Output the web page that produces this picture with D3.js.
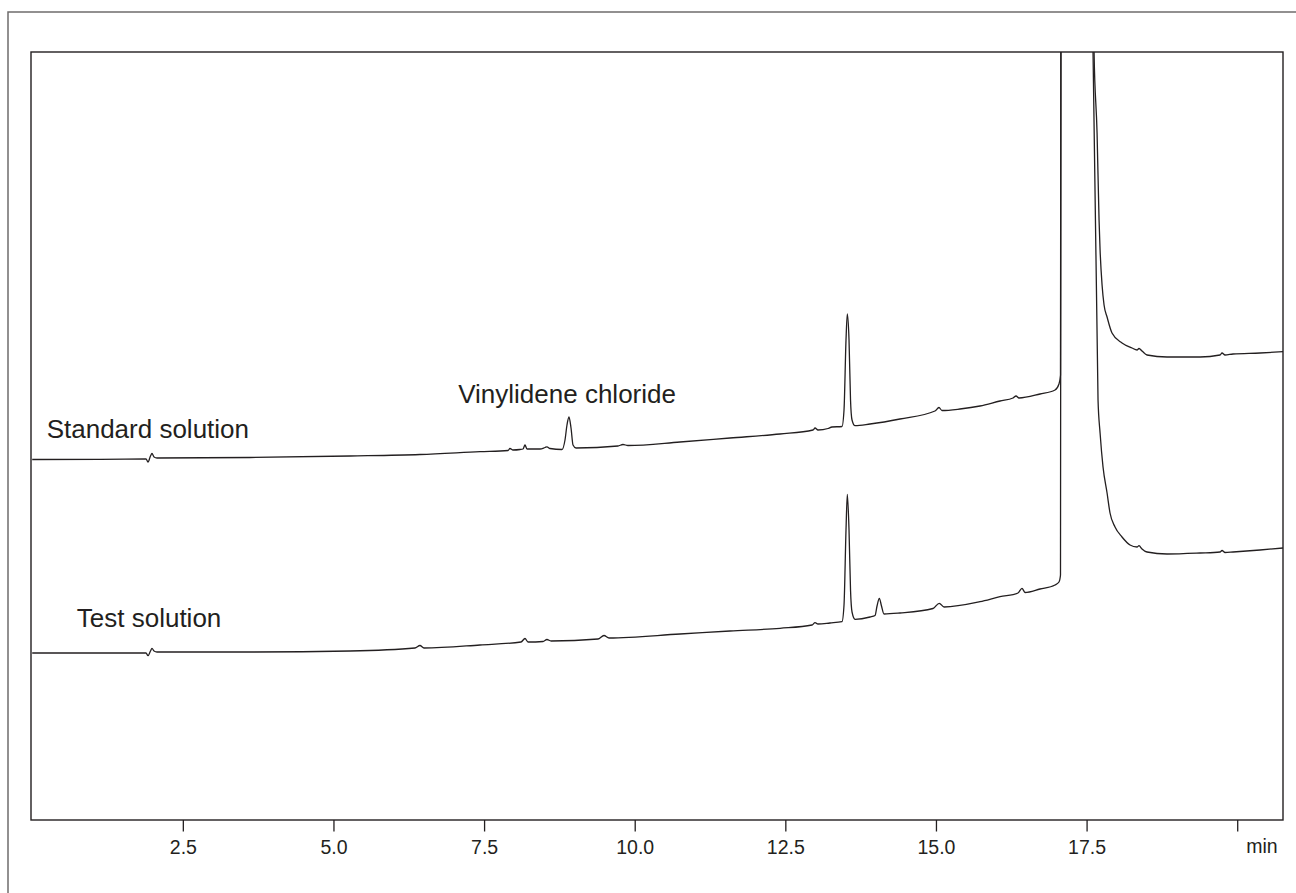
<!DOCTYPE html>
<html>
<head>
<meta charset="utf-8">
<script src="https://cdn.jsdelivr.net/npm/d3@7"></script>
<style>
    body { margin: 0; background: #fff; }
    svg { display: block; font-family: "Liberation Sans", Arial, Helvetica, sans-serif; }
</style>
</head>
<body>
<svg id="chart" width="1296" height="893"></svg>
<script>
// Retention time (min) and detector response (arbitrary units)
const stdTime = [0, 1.125, 1.889, 1.922, 1.963, 1.988, 2.022, 2.071, 3.615, 5.275, 6.436, 7.432,
    7.897, 7.930, 7.980, 8.096, 8.146, 8.179, 8.212, 8.428, 8.511, 8.544, 8.594, 8.793,
    8.843, 8.876, 8.909, 8.943, 8.976, 9.026, 9.722, 9.805, 9.888, 10.752, 11.582, 12.412,
    12.959, 12.993, 13.042, 13.208, 13.274, 13.440, 13.474, 13.507, 13.529, 13.557, 13.582,
    13.607, 13.657, 13.906, 14.403, 14.984, 15.050, 15.100, 15.399, 15.731, 16.063, 16.279,
    16.329, 16.378, 16.727, 16.976, 17.042, 17.067, 17.084, 17.300, 17.624, 17.674, 17.707,
    17.724, 17.757, 17.790, 17.840, 17.922, 18.088, 18.254, 18.337, 18.370, 18.420, 18.503, 18.835,
    19.383, 19.715, 19.748, 19.798, 19.931, 20.379, 20.76];
const stdResp = [360.5, 360.7, 361, 358, 364, 366.5, 363, 362, 362.5, 364, 365.5, 368.3,
    369.5, 371.5, 370, 370.5, 371, 375, 371, 371, 372.5, 373.2, 371.5, 370.5,
    380, 395, 403, 392, 375, 372, 374, 375.5, 374.5, 378, 382, 386,
    390, 392, 390, 391.5, 393, 393.5, 410, 480, 506, 480, 420,
    400, 394.3, 396, 401, 409, 412.5, 409.5, 411, 414, 419, 422,
    424, 422, 426, 430, 436, 445, 1500, 6000, 768, 687, 600,
    570, 535, 515, 503, 487, 477, 472, 470, 471.5, 469, 465, 463,
    463, 465, 467, 465, 466, 467, 468.3];

const testTime = [0, 1.125, 1.889, 1.922, 1.963, 1.988, 2.022, 2.071, 3.615, 5.275, 6.353, 6.436,
    6.502, 7.432, 8.113, 8.179, 8.229, 8.478, 8.544, 8.611, 9.391, 9.490, 9.573, 10.752,
    11.582, 12.412, 12.943, 12.993, 13.042, 13.241, 13.440, 13.474, 13.507, 13.529, 13.557,
    13.582, 13.607, 13.657, 13.906, 13.989, 14.022, 14.060, 14.096, 14.138, 14.403, 14.951,
    15.055, 15.134, 15.731, 16.063, 16.362, 16.428, 16.478, 16.727, 16.976, 17.042, 17.067,
    17.084, 17.300, 17.607, 17.690, 17.724, 17.773, 17.840, 17.889, 17.972, 18.088, 18.221,
    18.337, 18.370, 18.420, 18.503, 18.835, 19.383, 19.715, 19.748, 19.798, 19.931, 20.379, 20.76];
const testResp = [167, 167, 167, 164.3, 169, 171.7, 169, 168, 168, 169, 172, 174.5,
    172, 175, 178, 181.5, 178, 178.5, 180.5, 179, 181, 184.5, 182, 186,
    189, 191.7, 195, 197.3, 196, 197, 198.3, 215, 290, 325.7, 290,
    230, 208, 200.7, 203, 204.5, 214, 221.7, 214, 206, 207, 211.5,
    216.7, 213, 218.3, 223.3, 227, 231.7, 227.5, 231, 235, 238, 245,
    1500, 6000, 768, 420, 387, 353, 327, 307, 293, 283, 275,
    273, 274.3, 271, 268, 266, 267, 268, 269.5, 267.5, 268, 270, 272];

const xTicks = [2.5, 5.0, 7.5, 10.0, 12.5, 15.0, 17.5, 20.0];

const labels = [
    { text: "Standard solution", t: 0.24, v: 382.5 },
    { text: "Test solution", t: 0.74, v: 193.3 },
    { text: "Vinylidene chloride", t: 7.07, v: 417 }
];

const ink = "#231f20";
const svg = d3.select("#chart");
const margin = { top: 52, right: 13, bottom: 73, left: 31 };
const width = +svg.attr("width") - margin.left - margin.right;
const height = +svg.attr("height") - margin.top - margin.bottom;

// Outer border (only left and top edges are in view)
svg.append("path")
    .attr("d", "M8,893V12H1296")
    .attr("fill", "none")
    .attr("stroke", "#6f6c6c")
    .attr("stroke-width", 1.5);

const g = svg.append("g")
    .attr("transform", `translate(${margin.left},${margin.top})`);

const x = d3.scaleLinear()
    .domain([-0.02, 20.76])
    .range([0, width]);

const y = d3.scaleLinear()
    .domain([0, 768])
    .range([height, 0]);

g.append("clipPath")
    .attr("id", "plot-clip")
    .append("rect")
    .attr("width", width)
    .attr("height", height);

// Axis with ticks pointing down
const axis = g.append("g")
    .attr("transform", `translate(0,${height})`)
    .call(d3.axisBottom(x)
        .tickValues(xTicks)
        .tickSize(11.5)
        .tickPadding(8.7)
        .tickFormat(d => d === 20 ? "" : d3.format(".1f")(d)));

axis.select(".domain").remove();
axis.selectAll("line").attr("stroke", ink).attr("stroke-width", 1.3);
axis.selectAll("text")
    .attr("fill", ink)
    .style("font-size", "19.5px")
    .style("font-family", "'Liberation Sans', Arial, Helvetica, sans-serif");

g.append("text")
    .attr("x", x(20.41))
    .attr("y", height + 33)
    .attr("text-anchor", "middle")
    .attr("fill", ink)
    .style("font-size", "19.5px")
    .text("min");

// Frame
g.append("rect")
    .attr("width", width)
    .attr("height", height)
    .attr("fill", "none")
    .attr("stroke", ink)
    .attr("stroke-width", 1.4);

const line = d3.line()
    .x(d => x(d[0]))
    .y(d => y(d[1]))
    .curve(d3.curveMonotoneX);

const traces = [d3.zip(stdTime, stdResp), d3.zip(testTime, testResp)];

g.append("g")
    .attr("clip-path", "url(#plot-clip)")
    .selectAll("path")
    .data(traces)
    .enter()
    .append("path")
    .attr("d", line)
    .attr("fill", "none")
    .attr("stroke", ink)
    .attr("stroke-width", 1.3)
    .attr("stroke-linejoin", "round");

g.selectAll(".label")
    .data(labels)
    .enter()
    .append("text")
    .attr("class", "label")
    .attr("x", d => x(d.t))
    .attr("y", d => y(d.v))
    .attr("fill", ink)
    .style("font-size", "26px")
    .text(d => d.text);
</script>
</body>
</html>
